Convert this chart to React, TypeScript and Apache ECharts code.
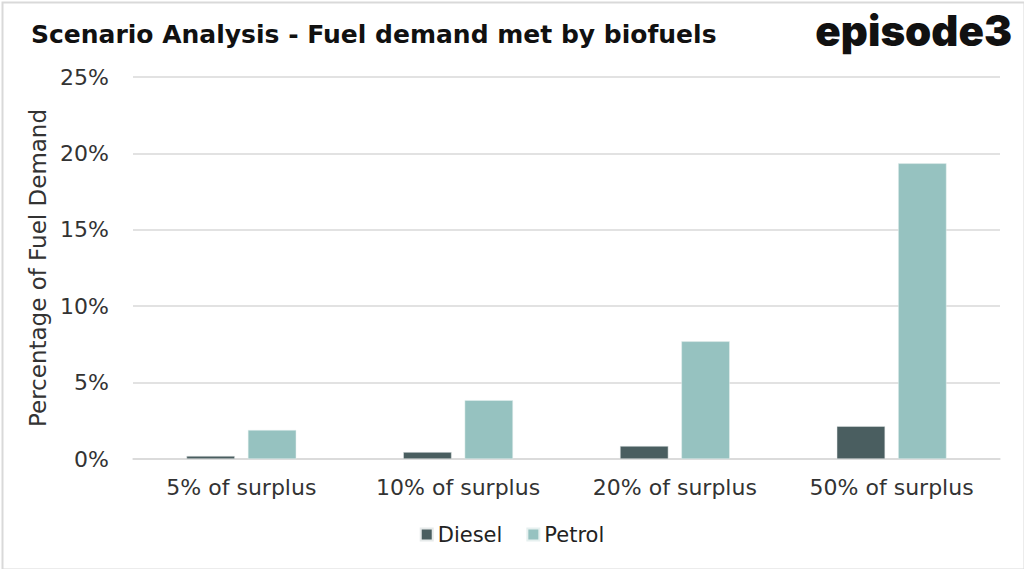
import React, { useEffect, useRef } from "react";
import * as echarts from "echarts";

const categories = ["5% of surplus", "10% of surplus", "20% of surplus", "50% of surplus"];
const diesel = [0.2, 0.45, 0.85, 2.15];
const petrol = [1.9, 3.85, 7.7, 19.35];
const yTicks = [0, 5, 10, 15, 20, 25];

const FONT = "'DejaVu Sans', 'Noto Sans', sans-serif";
const LOGO_FONT = "Inter, 'Noto Sans', sans-serif";

export default function App() {
  const ref = useRef<HTMLDivElement>(null);
  useEffect(() => {
    const chart = echarts.init(ref.current!, null, { renderer: "svg" });
    chart.setOption({
      animation: false,
      backgroundColor: "#ffffff",
      title: {
        text: "Scenario Analysis - Fuel demand met by biofuels",
        left: 26,
        top: 17,
        textStyle: { fontFamily: FONT, fontWeight: "bold", fontSize: 25, color: "#111" },
      },
      graphic: [
        {
          type: "text",
          right: 12,
          top: 9,
          style: {
            text: "episode3",
            fontFamily: LOGO_FONT,
            fontWeight: 900,
            fontSize: 42,
            fill: "#111",
          },
        },
        {
          type: "rect",
          left: 0,
          top: 0,
          shape: { width: 1022, height: 567 },
          style: { fill: "none", stroke: "#d9d9d9", lineWidth: 2 },
          silent: true,
        },
      ],
      legend: {
        bottom: 19,
        left: "center",
        itemWidth: 12,
        itemHeight: 12,
        itemGap: 24,
        icon: "rect",
        textStyle: { fontFamily: FONT, fontSize: 21, color: "#222" },
        data: ["Diesel", "Petrol"],
      },
      grid: { left: 133, right: 24, top: 77, bottom: 110 },
      xAxis: {
        type: "category",
        data: categories,
        axisTick: { show: false },
        axisLine: { lineStyle: { color: "#d9d9d9", width: 1.5 } },
        axisLabel: { fontFamily: FONT, fontSize: 22, color: "#333", margin: 17 },
      },
      yAxis: {
        type: "value",
        min: 0,
        max: 25,
        interval: 5,
        name: "Percentage of Fuel Demand",
        nameLocation: "middle",
        nameGap: 82,
        nameTextStyle: { fontFamily: FONT, fontSize: 23, color: "#333" },
        axisLabel: {
          fontFamily: FONT,
          fontSize: 22,
          color: "#333",
          margin: 24,
          formatter: (v: number) => (yTicks.includes(v) ? v + "%" : ""),
        },
        splitLine: { lineStyle: { color: "#d9d9d9", width: 1.5 } },
        axisLine: { show: false },
        axisTick: { show: false },
      },
      series: [
        {
          name: "Diesel",
          type: "bar",
          data: diesel,
          barWidth: "22.3%",
          barGap: "27%",
          itemStyle: { color: "#4a5e60", borderColor: "#e6eaea", borderWidth: 0.5 },
        },
        {
          name: "Petrol",
          type: "bar",
          data: petrol,
          barWidth: "22.3%",
          itemStyle: { color: "#96c2c0", borderColor: "#e6f0ef", borderWidth: 0.5 },
        },
      ],
    });
    return () => chart.dispose();
  }, []);
  return (
    <div
      ref={ref}
      style={{ position: "absolute", left: 0, top: 0, width: 1024, height: 569 }}
    />
  );
}
